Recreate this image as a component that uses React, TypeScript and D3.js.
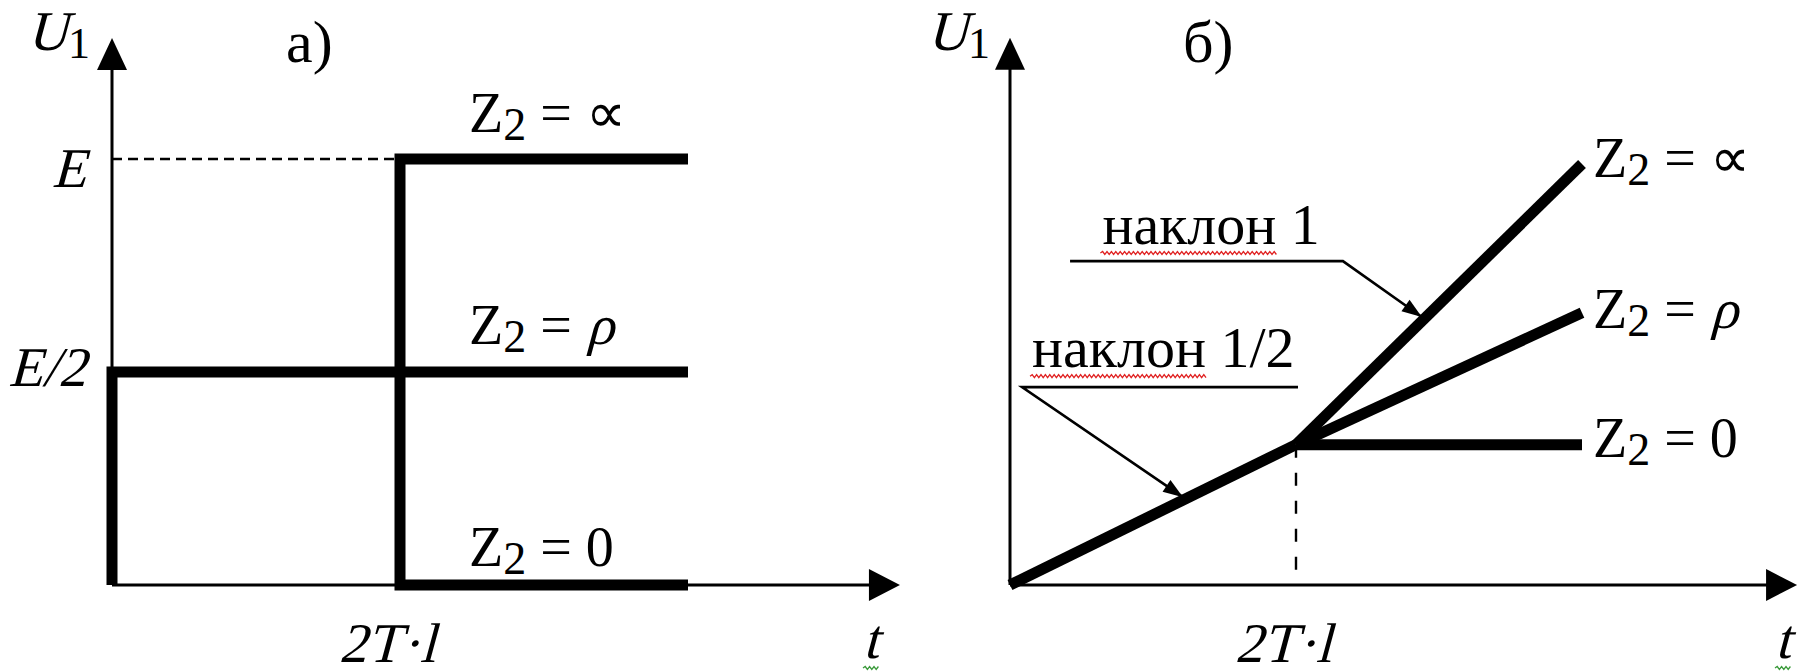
import React from "react";
import * as d3 from "d3";

type Pt = [number, number];

// ---- Panel а): input voltage U1 for a step source, three load cases ----
// t in units of 2T·l, U in units of E
const aRho: Pt[] = [[0, 0], [0, 0.5], [2, 0.5]];
const aInf: Pt[] = [[1, 0.5], [1, 1], [2, 1]];
const aZero: Pt[] = [[1, 0.5], [1, 0], [2, 0]];
const aTicksY = [
  { v: 1, label: "E", dy: 28 },
  { v: 0.5, label: "E/2", dy: 14 },
];
const aLabels = [
  { v: 1, sym: "∝", dy: -27 },
  { v: 0.5, sym: "ρ", dy: -28 },
  { v: 0, sym: "0", dy: -19 },
];

// ---- Panel б): input voltage U1 for a ramp source ----
const bRamp: Pt[] = [[0, 0], [1, 0.5]];
const bInf: Pt[] = [[1, 0.5], [2, 1.5]];
const bRho: Pt[] = [[1, 0.5], [2, 0.97]];
const bZero: Pt[] = [[1, 0.5], [2, 0.5]];
const bLabels = [
  { pt: bInf[1], sym: "∝", dy: 13 },
  { pt: bRho[1], sym: "ρ", dy: 15 },
  { pt: bZero[1], sym: "0", dy: 12 },
];
const slopeNotes = [
  { text: "наклон 1", shelf: [[0.21, 1.154], [1.164, 1.154]] as Pt[], tip: [1.44, 0.955] as Pt, textAt: [0.323, 1.215] as Pt, waveTo: 0.933 },
  { text: "наклон 1/2", shelf: [[1.007, 0.705], [0.042, 0.705]] as Pt[], tip: [0.605, 0.313] as Pt, textAt: [0.077, 0.776] as Pt, waveTo: 0.69 },
];

const W = 1806;
const H = 672;
const FONT = "Liberation Serif";
const SKEW = -15; // oblique slant for the italic symbols

// scales
const xA = d3.scaleLinear().domain([0, 2]).range([112, 688]);
const yA = d3.scaleLinear().domain([0, 1]).range([585, 159]);
const xB = d3.scaleLinear().domain([0, 2]).range([1010, 1582]);
const yB = d3.scaleLinear().domain([0, 1.5]).range([585, 164]);

const A_XMAX = 2.736;
const A_YMAX = 1.284;
const B_XMAX = 2.752;
const B_YMAX = 1.95;

function lineGen(x: d3.ScaleLinear<number, number>, y: d3.ScaleLinear<number, number>) {
  return d3
    .line<Pt>()
    .x((d) => x(d[0]))
    .y((d) => y(d[1]));
}

function wave(x0: number, x1: number, y: number, amp = 1.6, step = 2.2) {
  let d = `M${x0},${y}`;
  let k = 0;
  for (let x = x0 + step; x <= x1; x += step) {
    k++;
    d += `L${x.toFixed(1)},${(y + (k % 2 ? -amp : amp)).toFixed(1)}`;
  }
  return d;
}

function arrowHead(from: [number, number], tip: [number, number], len: number, half: number) {
  const dx = tip[0] - from[0];
  const dy = tip[1] - from[1];
  const L = Math.hypot(dx, dy);
  const ux = dx / L;
  const uy = dy / L;
  const bx = tip[0] - ux * len;
  const by = tip[1] - uy * len;
  return `M${tip[0]},${tip[1]}L${bx - uy * half},${by + ux * half}L${bx + uy * half},${by - ux * half}Z`;
}

function Slanted({ x, y, size = 56, anchor = "start", children }: { x: number; y: number; size?: number; anchor?: string; children: React.ReactNode }) {
  return (
    <g transform={`translate(${x},${y}) skewX(${SKEW})`}>
      <text x={0} y={0} textAnchor={anchor} style={{ fontFamily: FONT, fontSize: size }}>
        {children}
      </text>
    </g>
  );
}

function Axes({ x, y, xmax, ymax }: { x: d3.ScaleLinear<number, number>; y: d3.ScaleLinear<number, number>; xmax: number; ymax: number }) {
  const x0 = x(0);
  const y0 = y(0);
  const xt = x(xmax);
  const yt = y(ymax);
  return (
    <g>
      <line x1={x0} y1={y0} x2={x0} y2={yt + 20} stroke="#000" strokeWidth={3} />
      <line x1={x0} y1={y0} x2={xt - 20} y2={y0} stroke="#000" strokeWidth={3} />
      <path d={`M${x0},${yt}L${x0 - 15},${yt + 32}L${x0 + 15},${yt + 32}Z`} fill="#000" />
      <path d={`M${xt},${y0}L${xt - 31},${y0 - 16}L${xt - 31},${y0 + 16}Z`} fill="#000" />
    </g>
  );
}

function ZLabel({ x, y, sym }: { x: number; y: number; sym: string }) {
  return (
    <g>
      <text x={x} y={y} style={{ fontFamily: FONT, fontSize: 56 }}>
        Z
        <tspan style={{ fontSize: 46 }} dy={8}>2</tspan>
        <tspan dy={-8}>{"\u00a0=\u00a0"}</tspan>
        {sym !== "ρ" && <tspan>{sym}</tspan>}
      </text>
      {sym === "ρ" && <Slanted x={x + 117} y={y}>ρ</Slanted>}
    </g>
  );
}

function U1({ x }: { x: number }) {
  return (
    <g>
      <Slanted x={x} y={50}>U</Slanted>
      <text x={x + 41} y={58} style={{ fontFamily: FONT, fontSize: 44 }}>
        1
      </text>
    </g>
  );
}

function TimeLabels({ x, knee, tx }: { x: d3.ScaleLinear<number, number>; knee: number; tx: number }) {
  return (
    <g>
      <Slanted x={x(knee) - 13} y={662} anchor="middle">
        2T·l
      </Slanted>
      <Slanted x={tx - 2} y={658}>t</Slanted>
      <path d={wave(tx - 2, tx + 15, 668, 1.5, 2.2)} fill="none" stroke="#3a9a3a" strokeWidth={1.3} />
    </g>
  );
}

export default function App() {
  const la = lineGen(xA, yA);
  const lb = lineGen(xB, yB);
  const thick = { fill: "none", stroke: "#000", strokeWidth: 11, strokeLinejoin: "miter" as const, strokeLinecap: "butt" as const };

  return (
    <svg width={W} height={H} viewBox={`0 0 ${W} ${H}`} style={{ position: "absolute", left: 0, top: 0, background: "#fff" }}>
      <rect width={W} height={H} fill="#fff" />

      {/* ---------- panel а) ---------- */}
      <Axes x={xA} y={yA} xmax={A_XMAX} ymax={A_YMAX} />
      <line x1={xA(0)} y1={yA(1)} x2={xA(1)} y2={yA(1)} stroke="#000" strokeWidth={2.4} strokeDasharray="10 6" />
      <path d={la(aRho) ?? ""} {...thick} />
      <path d={la(aInf) ?? ""} {...thick} />
      <path d={la(aZero) ?? ""} {...thick} />
      {aTicksY.map((t) => (
        <Slanted key={t.label} x={xA(0) - 26} y={yA(t.v) + t.dy} anchor="end">
          {t.label}
        </Slanted>
      ))}
      {aLabels.map((l) => (
        <ZLabel key={l.sym} x={xA(1) + 69} y={yA(l.v) + l.dy} sym={l.sym} />
      ))}
      <U1 x={xA(0) - 85} />
      <text x={xA(0) + 174} y={62} style={{ fontFamily: FONT, fontSize: 60 }}>
        а)
      </text>
      <TimeLabels x={xA} knee={1} tx={865} />

      {/* ---------- panel б) ---------- */}
      <Axes x={xB} y={yB} xmax={B_XMAX} ymax={B_YMAX} />
      <line x1={xB(1)} y1={yB(0.5)} x2={xB(1)} y2={yB(0)} stroke="#000" strokeWidth={2.4} strokeDasharray="13 15" />
      <path d={lb(bRamp) ?? ""} {...thick} />
      <path d={lb(bInf) ?? ""} {...thick} />
      <path d={lb(bRho) ?? ""} {...thick} />
      <path d={lb(bZero) ?? ""} {...thick} />
      {bLabels.map((l) => (
        <ZLabel key={l.sym} x={xB(l.pt[0]) + 11} y={yB(l.pt[1]) + l.dy} sym={l.sym} />
      ))}
      {slopeNotes.map((n) => {
        const p0: [number, number] = [xB(n.shelf[0][0]), yB(n.shelf[0][1])];
        const p1: [number, number] = [xB(n.shelf[1][0]), yB(n.shelf[1][1])];
        const tip: [number, number] = [xB(n.tip[0]), yB(n.tip[1])];
        const tx = xB(n.textAt[0]);
        const ty = yB(n.textAt[1]);
        return (
          <g key={n.text}>
            <path d={`M${p0[0]},${p0[1]}L${p1[0]},${p1[1]}L${tip[0]},${tip[1]}`} fill="none" stroke="#000" strokeWidth={2.6} />
            <path d={arrowHead(p1, tip, 20, 7)} fill="#000" />
            <text x={tx} y={ty} style={{ fontFamily: FONT, fontSize: 58 }}>
              {n.text}
            </text>
            <path d={wave(tx - 2, xB(n.waveTo), ty + 9, 1.5, 2.2)} fill="none" stroke="#e02020" strokeWidth={1.3} />
          </g>
        );
      })}
      <U1 x={xB(0) - 83} />
      <text x={xB(0) + 173} y={62} style={{ fontFamily: FONT, fontSize: 60 }}>
        б)
      </text>
      <TimeLabels x={xB} knee={1} tx={1777} />
    </svg>
  );
}
